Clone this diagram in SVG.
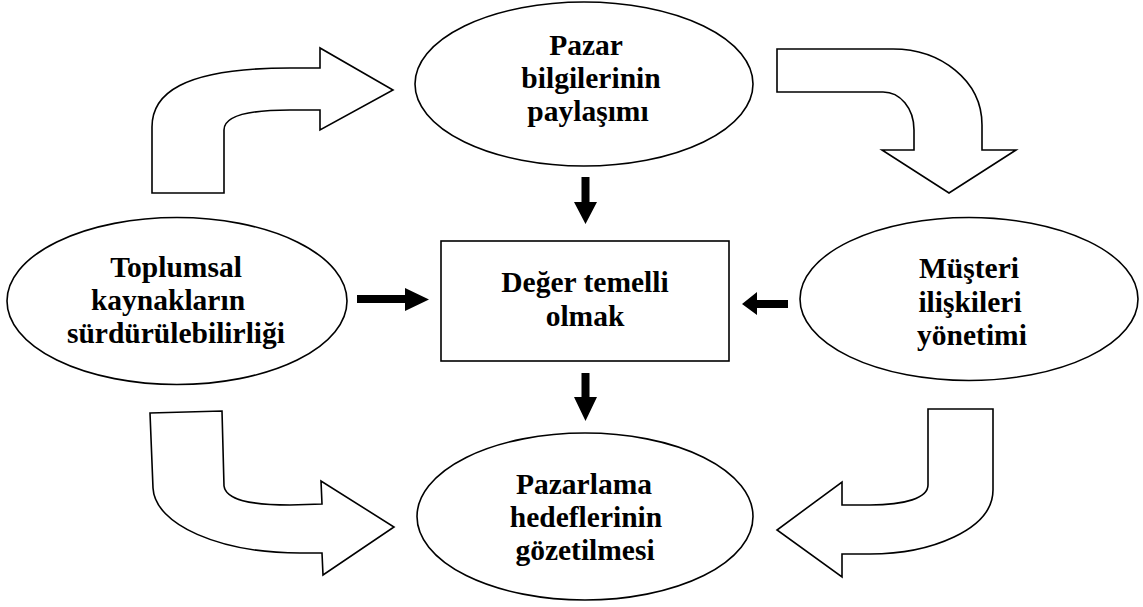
<svg xmlns="http://www.w3.org/2000/svg" width="1143" height="607" viewBox="0 0 1143 607">
<style>
.shape{fill:#fff;stroke:#000;stroke-width:1.6}
.bend{fill:#fff;stroke:#000;stroke-width:1.6;stroke-linejoin:miter}
.solid{fill:#000;stroke:none}
text{font-family:"Liberation Serif","Times New Roman",serif;font-weight:bold;font-size:29.5px;fill:#000;text-anchor:middle}
</style>
<rect width="1143" height="607" fill="#fff"/>
<g id="connectors">
<path class="bend" d="M152,193 L152,127 C152,95 180,68 290,68 L320,68 L320,48 L393,90 L320,130 L320,110 L290,110 C245,110 224,117 224,130 L224,193 Z"/>
<path class="bend" d="M777,49 L893,49 C940,49 982,80 982,125 L982,150 L1016,150 L949,193 L882,150 L914,150 L914,130 C914,108 900,92 883,92 L777,92 Z"/>
<path class="bend" d="M150,413 L222,411 L224,486 C226,500 250,505 290,505 L322,504 L321,481 L394,527 L323,575 L322,553 L300,553 C220,553 155,525 153,488 Z"/>
<path class="bend" d="M928,409 L993,409 L993,490 C993,530 930,554 870,554 L842,554 L842,577 L777,530 L842,482 L842,505 L870,505 C905,505 928,498 928,485 Z"/>
<polygon class="solid" points="581.5,177 589.5,177 589.5,202 597,202 585.5,224 574,202 581.5,202"/>
<polygon class="solid" points="581.5,373 589.5,373 589.5,397 597,397 585.5,421 574,397 581.5,397"/>
<polygon class="solid" points="357,295 405,295 405,288 429,299.5 405,311 405,303 357,303"/>
<polygon class="solid" points="788,300 757,300 757,292 742,304 757,315 757,308 788,308"/>
</g>
<g id="node-pazar-bilgileri">
<ellipse class="shape" cx="584" cy="84" rx="169" ry="82"/>
<text x="586" y="55">Pazar</text>
<text x="591" y="88">bilgilerinin</text>
<text x="588" y="121">paylaşımı</text>
</g>
<g id="node-toplumsal">
<ellipse class="shape" cx="177" cy="301" rx="170" ry="83.5"/>
<text x="176" y="277">Toplumsal</text>
<text x="168" y="310">kaynakların</text>
<text x="176" y="343">sürdürülebilirliği</text>
</g>
<g id="node-deger">
<rect class="shape" x="441" y="241" width="288" height="120"/>
<text x="585" y="292">Değer temelli</text>
<text x="585" y="326">olmak</text>
</g>
<g id="node-musteri">
<ellipse class="shape" cx="969" cy="299" rx="169" ry="81.5"/>
<text x="969" y="278">Müşteri</text>
<text x="970" y="312">ilişkileri</text>
<text x="972" y="345">yönetimi</text>
</g>
<g id="node-pazarlama">
<ellipse class="shape" cx="585" cy="516.5" rx="168" ry="83.5"/>
<text x="584" y="494">Pazarlama</text>
<text x="586" y="527">hedeflerinin</text>
<text x="585" y="560">gözetilmesi</text>
</g>
</svg>
